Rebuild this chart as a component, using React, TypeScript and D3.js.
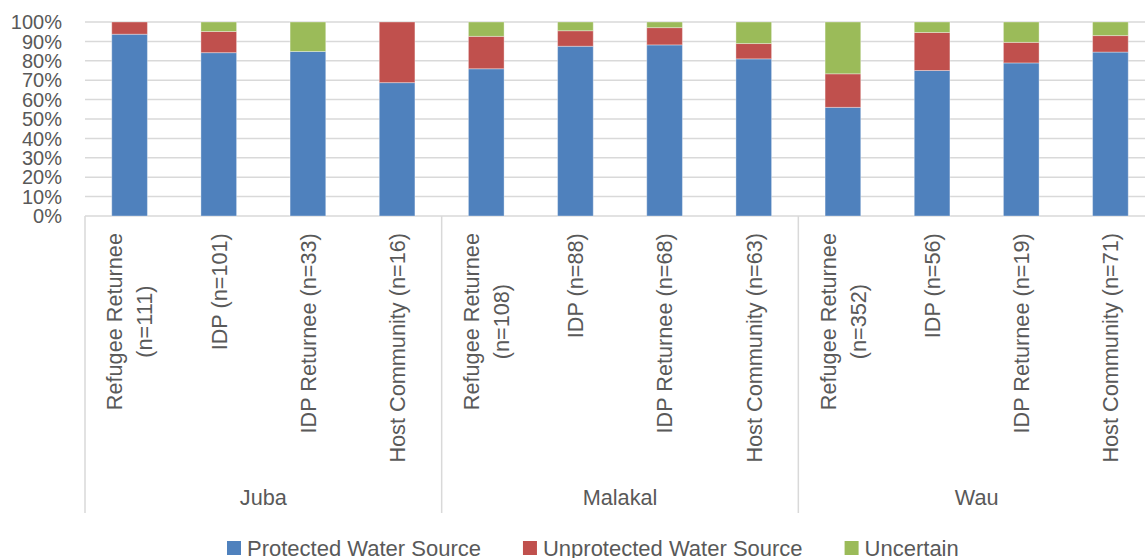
import React from "react";
import * as d3 from "d3";

const groups = ["Juba", "Malakal", "Wau"];
const categories = [
  ["Refugee Returnee", "(n=111)"],
  ["IDP (n=101)"],
  ["IDP Returnee (n=33)"],
  ["Host Community (n=16)"],
  ["Refugee Returnee", "(n=108)"],
  ["IDP (n=88)"],
  ["IDP Returnee (n=68)"],
  ["Host Community (n=63)"],
  ["Refugee Returnee", "(n=352)"],
  ["IDP (n=56)"],
  ["IDP Returnee (n=19)"],
  ["Host Community (n=71)"],
];
const categoryGroup = [0, 0, 0, 0, 1, 1, 1, 1, 2, 2, 2, 2];
const protectedSrc = [93.7, 84.2, 84.8, 68.75, 75.9, 87.5, 88.2, 81.0, 56.0, 75.0, 78.9, 84.5];
const unprotectedSrc = [6.3, 10.9, 0, 31.25, 16.7, 8.0, 8.9, 7.9, 17.3, 19.6, 10.6, 8.5];
const uncertain = [0, 4.9, 15.2, 0, 7.4, 4.5, 2.9, 11.1, 26.7, 5.4, 10.5, 7.0];
const seriesNames = ["Protected Water Source", "Unprotected Water Source", "Uncertain"];
const seriesColors = ["#4F81BD", "#C0504D", "#9BBB59"];
const yTicks = [0, 10, 20, 30, 40, 50, 60, 70, 80, 90, 100];

const FONT = '"Liberation Sans", Arial, sans-serif';
const TXT = "#595959";
const GRID = "#d9d9d9";

function measure(text: string, size: number) {
  const c = document.createElement("canvas").getContext("2d");
  if (!c) return text.length * size * 0.5;
  c.font = `${size}px "Liberation Sans"`;
  return c.measureText(text).width;
}

export default function App() {
  const W = 1145, H = 558;
  const left = 85, right = 1155, top = 22, bottom = 216;
  const x = d3.scaleBand<number>().domain(d3.range(12)).range([left, right]).paddingInner(0.6).paddingOuter(0.3);
  const y = d3.scaleLinear().domain([0, 100]).range([bottom, top]);
  const step = x.step();

  const rows = categories.map((_, i) => ({ i, p: protectedSrc[i], u: unprotectedSrc[i], c: uncertain[i] }));
  const stack = d3.stack<any>().keys(["p", "u", "c"])(rows);

  const catSize = 21.7;
  const labelTop = 233;
  const lineGap = 30;

  // legend layout
  const legSize = 22;
  let lx = 227;
  const legendItems = seriesNames.map((n, k) => {
    const item = { n, k, x: lx };
    lx += 20 + measure(n, legSize) + 42;
    return item;
  });

  const groupBounds = groups.map((g, gi) => {
    const idx = categoryGroup.map((v, i) => (v === gi ? i : -1)).filter((i) => i >= 0);
    const x0 = (x(idx[0]) as number) - (step - x.bandwidth()) / 2;
    const x1 = (x(idx[idx.length - 1]) as number) + x.bandwidth() + (step - x.bandwidth()) / 2;
    return { g, x0, x1 };
  });

  return (
    <svg width={W} height={H} style={{ position: "absolute", left: 0, top: 0, background: "#fff" }} fontFamily={FONT}>
      {yTicks.map((t) => (
        <g key={t}>
          <line x1={left} x2={W} y1={y(t)} y2={y(t)} stroke={GRID} strokeWidth={1.5} />
          <text x={62} y={y(t)} dy="0.36em" textAnchor="end" fontSize={20} fill={TXT}>
            {t}%
          </text>
        </g>
      ))}
      {stack.map((s, k) =>
        s.map((d, i) =>
          d[1] - d[0] > 0 ? (
            <rect
              key={`${k}-${i}`}
              x={x(i)}
              width={x.bandwidth()}
              y={y(d[1])}
              height={y(d[0]) - y(d[1])}
              fill={seriesColors[k]}
              stroke="#ffffff"
              strokeOpacity={0.35}
              strokeWidth={1}
            />
          ) : null
        )
      )}
      {[groupBounds[0].x0, ...groupBounds.map((b) => b.x1)].map((sx, i) => (
        <line key={i} x1={sx} x2={sx} y1={bottom} y2={513} stroke={GRID} strokeWidth={1.5} />
      ))}
      {categories.map((lines, i) => {
        const cx = (x(i) as number) + x.bandwidth() / 2;
        const maxW = Math.max(...lines.map((l) => measure(l, catSize)));
        const cy = labelTop + maxW / 2;
        const n = lines.length;
        return lines.map((l, j) => {
          const lxp = cx + (j - (n - 1) / 2) * lineGap;
          return (
            <text
              key={`${i}-${j}`}
              transform={`translate(${lxp},${cy}) rotate(-90)`}
              textAnchor="middle"
              dy="0.36em"
              fontSize={catSize}
              fill={TXT}
            >
              {l}
            </text>
          );
        });
      })}
      {groupBounds.map((b) => (
        <text key={b.g} x={(b.x0 + b.x1) / 2} y={505} textAnchor="middle" fontSize={catSize} fill={TXT}>
          {b.g}
        </text>
      ))}
      {legendItems.map((it) => (
        <g key={it.n}>
          <rect x={it.x} y={541} width={14} height={14} fill={seriesColors[it.k]} />
          <text x={it.x + 20} y={556} fontSize={legSize} fill={TXT}>
            {it.n}
          </text>
        </g>
      ))}
    </svg>
  );
}
